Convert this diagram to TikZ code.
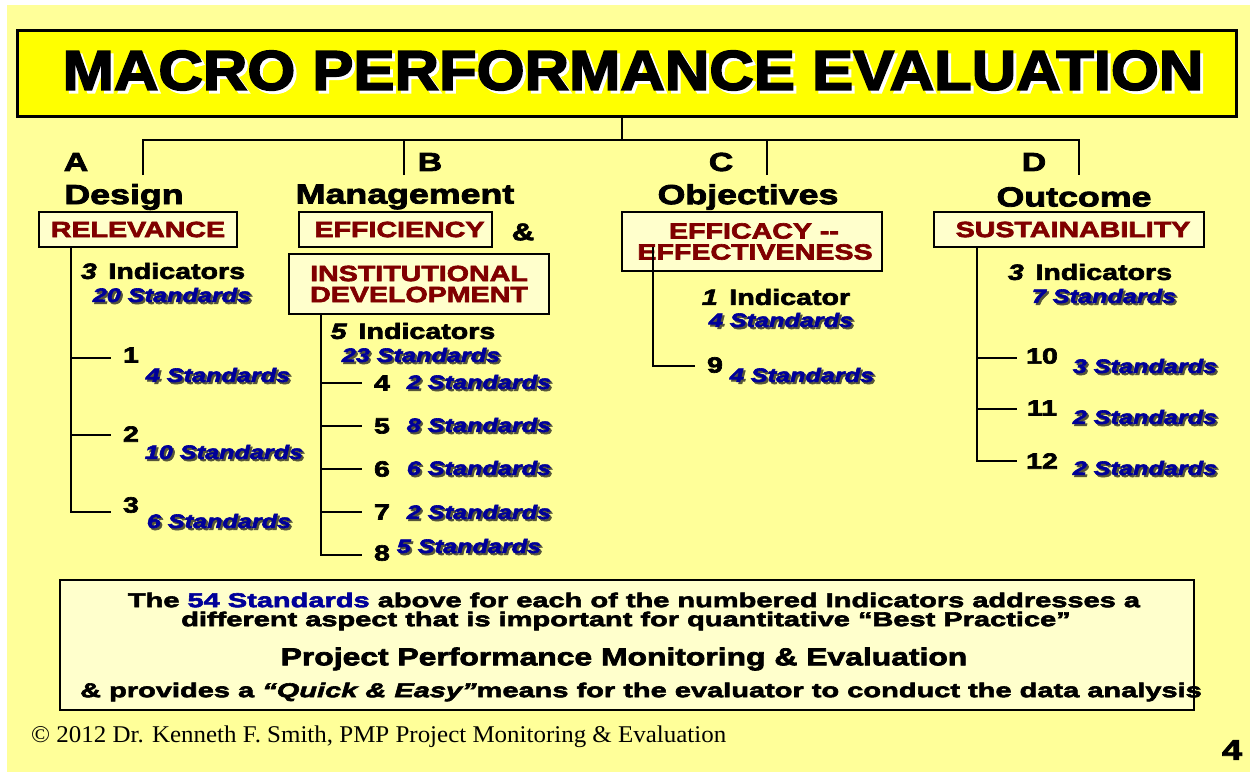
\documentclass[tikz,border=0pt]{standalone}
\usepackage{fontspec}
\setmainfont{Liberation Sans}
% heavy display faces built from Liberation Sans Bold
\newfontfamily\blkc{Liberation Sans Bold}[FakeBold=3,FakeStretch=1.1,ItalicFont={Liberation Sans Bold Italic},ItalicFeatures={FakeBold=3,FakeStretch=1.1}]
\newfontfamily\blk{Liberation Sans Bold}[FakeBold=3,FakeStretch=1.3,ItalicFont={Liberation Sans Bold Italic},ItalicFeatures={FakeBold=3,FakeStretch=1.3}]
\newfontfamily\blkw{Liberation Sans Bold}[FakeBold=3,FakeStretch=1.45,ItalicFont={Liberation Sans Bold Italic},ItalicFeatures={FakeBold=3,FakeStretch=1.45}]
\newfontfamily\tmsfont{Liberation Serif}[FakeStretch=1.04]
\definecolor{pagebg}{HTML}{FFFF99}
\definecolor{titlefill}{HTML}{FFFF00}
\definecolor{boxfill}{HTML}{FFFFCC}
\definecolor{darkred}{HTML}{800000}
\definecolor{stdblue}{HTML}{000099}
\definecolor{stdshadow}{HTML}{55553A}
% text with an offset shadow copy behind it
\newcommand\shd[3]{\rlap{\kern#1\raisebox{-#1}{\textcolor{#2}{#3}}}#3}
\newcommand\fsz[1]{\fontsize{#1}{#1}\selectfont}
\tikzset{
  conn/.style={line width=2pt,draw=black},
  catbox/.style={draw=black,line width=2pt,fill=boxfill,text=darkred,
    font=\blk\fsz{22},inner sep=0pt,align=center},
  heading/.style={font=\blk\fsz{27.5},inner sep=0pt},
  letter/.style={font=\blk\fsz{26},inner sep=0pt},
  numlbl/.style={font=\blk\fsz{22},inner sep=0pt},
  indlbl/.style={font=\blk\fsz{22},inner sep=0pt},
  stdlbl/.style={font=\blk\itshape\fsz{19.4},text=stdblue,inner sep=0pt},
  notetext/.style={font=\blkw\fsz{20},inner sep=0pt},
}
\newcommand\std[1]{\shd{2pt}{stdshadow}{#1}}
\begin{document}
\begin{tikzpicture}[x=1pt,y=-1pt]
\useasboundingbox (0,0) rectangle (1250,772);
\fill[white] (0,0) rectangle (1250,772);
\fill[pagebg] (7,5) rectangle (1250,772);

% title banner
\node[draw=black,line width=3pt,fill=titlefill,minimum width=1219pt,minimum height=86pt,inner sep=0pt]
  (title) at (626.5,73) {};
\node[font=\blkc\fsz{56},inner sep=0pt] (titletext) at (633,72) {\shd{3pt}{white}{MACRO PERFORMANCE EVALUATION}};

% top-level bar and drops
\coordinate (hub) at (622,140);
\coordinate (dA) at (143,175);
\coordinate (dB) at (404,175);
\coordinate (dC) at (767,175);
\coordinate (dD) at (1079,175);
\draw[conn] (hub |- title.south) -- (hub);
\draw[conn] (dA) -- (dA |- hub) -- (dD |- hub) -- (dD);
\draw[conn] (dB) -- (dB |- hub);
\draw[conn] (dC) -- (dC |- hub);

% letters and headings
\node[letter] (lA) at (76,162) {A};
\node[letter] (lB) at (430,162) {B};
\node[letter] (lC) at (721,162) {C};
\node[letter] (lD) at (1034,162) {D};
\node[heading] (hA) at (124,197) {Design};
\node[heading] (hB) at (405,197) {Management};
\node[heading] (hC) at (748,197) {Objectives};
\node[heading] (hD) at (1074,197) {Outcome};

% category boxes
\node[catbox,minimum width=198pt,minimum height=35pt] (rel) at (138,229.5) {RELEVANCE};
\node[catbox,minimum width=193pt,minimum height=35pt] (eff) at (395.5,229.5) {\hspace*{8pt}EFFICIENCY};
\node[heading,font=\blk\fsz{24}] (amp) at (523,232) {\&};
\node[catbox,minimum width=260pt,minimum height=60pt] (inst) at (419,284) {INSTITUTIONAL\\[-1pt]DEVELOPMENT};
\node[catbox,minimum width=260pt,minimum height=59pt] (effc) at (752,241.5) {\hspace*{4pt}EFFICACY --\\[-1pt]\hspace*{6pt}EFFECTIVENESS};
\node[catbox,minimum width=270pt,minimum height=35pt] (sus) at (1069,229.5) {\hspace*{8pt}SUSTAINABILITY};

% --- A: Design ---
\node[indlbl] (indA) at (163,271) {\textit{3}\, Indicators};
\node[stdlbl] (sumA) at (172,296) {\std{20 Standards}};
\coordinate (a1) at (111,358);
\coordinate (a2) at (111,435);
\coordinate (a3) at (111,512);
\coordinate (ta) at (71,247);
\draw[conn] (ta) |- (a3);
\draw[conn] (a1 -| ta) -- (a1);
\draw[conn] (a2 -| ta) -- (a2);
\node[numlbl] (n1) at (131,355) {1};
\node[numlbl] (n2) at (131,434) {2};
\node[numlbl] (n3) at (131,505) {3};
\node[stdlbl] (s1) at (218,376) {\std{4 Standards}};
\node[stdlbl] (s2) at (224,453) {\std{10 Standards}};
\node[stdlbl] (s3) at (219,522) {\std{6 Standards}};

% --- B: Management ---
\node[indlbl] (indB) at (413,331) {\textit{5}\, Indicators};
\node[stdlbl] (sumB) at (421,356) {\std{23 Standards}};
\coordinate (tb) at (321,314);
\coordinate (b4) at (362,383);
\coordinate (b5) at (362,426);
\coordinate (b6) at (362,469);
\coordinate (b7) at (362,512);
\coordinate (b8) at (362,555);
\draw[conn] (tb) |- (b8);
\draw[conn] (b4 -| tb) -- (b4);
\draw[conn] (b5 -| tb) -- (b5);
\draw[conn] (b6 -| tb) -- (b6);
\draw[conn] (b7 -| tb) -- (b7);
\node[numlbl] (n4) at (382,383) {4};
\node[numlbl] (n5) at (382,426) {5};
\node[numlbl] (n6) at (382,469) {6};
\node[numlbl] (n7) at (382,512) {7};
\node[numlbl] (n8) at (382,553) {8};
\node[stdlbl] (s4) at (479,383) {\std{2 Standards}};
\node[stdlbl] (s5) at (479,426) {\std{8 Standards}};
\node[stdlbl] (s6) at (479,469) {\std{6 Standards}};
\node[stdlbl] (s7) at (479,513) {\std{2 Standards}};
\node[stdlbl] (s8) at (469,547) {\std{5 Standards}};

% --- C: Objectives ---
\node[indlbl] (indC) at (776,297) {\textit{1}\, Indicator};
\node[stdlbl] (sumC) at (781,321) {\std{4 Standards}};
\coordinate (tc) at (653,247);
\coordinate (c9) at (695,366);
\draw[conn] (tc) |- (c9);
\node[numlbl] (n9) at (715,365) {9};
\node[stdlbl] (s9) at (802,376) {\std{4 Standards}};

% --- D: Outcome ---
\node[indlbl] (indD) at (1090,272) {\textit{3}\, Indicators};
\node[stdlbl] (sumD) at (1104,297) {\std{7 Standards}};
\coordinate (td) at (977,247);
\coordinate (d10) at (1017,358);
\coordinate (d11) at (1017,409);
\coordinate (d12) at (1017,461);
\draw[conn] (td) |- (d12);
\draw[conn] (d10 -| td) -- (d10);
\draw[conn] (d11 -| td) -- (d11);
\node[numlbl] (n10) at (1042,356) {10};
\node[numlbl] (n11) at (1042,408) {11};
\node[numlbl] (n12) at (1042,461) {12};
\node[stdlbl] (s10) at (1145,367) {\std{3 Standards}};
\node[stdlbl] (s11) at (1145,418) {\std{2 Standards}};
\node[stdlbl] (s12) at (1145,469) {\std{2 Standards}};

% summary note
\node[draw=black,line width=2pt,fill=boxfill,minimum width=1134pt,minimum height=130pt,inner sep=0pt]
  (note) at (627,645) {};
\node[notetext] (note1) at (634,600) {The \textcolor{stdblue}{54 Standards} above for each of the numbered Indicators addresses a};
\node[notetext] (note2) at (626,621) {different aspect that is important for quantitative “Best Practice”};
\node[notetext,font=\blk\fsz{24.5}] (note3) at (624,659) {Project Performance Monitoring \& Evaluation};
\node[notetext] (note4) at (641,692) {\& provides a \textit{“Quick \& Easy”}means for the evaluator to conduct the data analysis};

% footer
\node[font=\tmsfont\fsz{24},anchor=west,inner sep=0pt] (foot) at (31,737) {© 2012 Dr. Kenneth F. Smith, PMP Project Monitoring \& Evaluation};
\node[font=\blk\fsz{28},inner sep=0pt] (page) at (1232,750) {4};
\end{tikzpicture}
\end{document}
